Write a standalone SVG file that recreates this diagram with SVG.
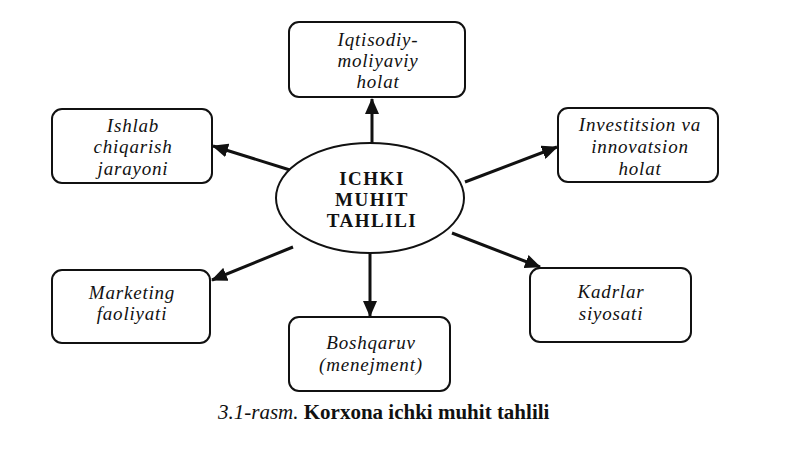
<svg xmlns="http://www.w3.org/2000/svg" width="800" height="449" viewBox="0 0 800 449">
<defs>
<style>
.box{fill:#fff;stroke:#111;stroke-width:2}
.t{font-family:"Liberation Serif","Times New Roman",serif;font-style:italic;font-size:19px;letter-spacing:0.8px;fill:#111;text-anchor:middle}
.c{font-family:"Liberation Serif","Times New Roman",serif;font-weight:bold;font-size:19px;letter-spacing:1.5px;fill:#111;text-anchor:middle}
.ln{stroke:#111;stroke-width:3;fill:none;marker-end:url(#ah)}
</style>
<marker id="ah" markerUnits="userSpaceOnUse" markerWidth="16" markerHeight="14" refX="15" refY="7" orient="auto">
<path d="M0,0 L16,7 L0,14 Z" fill="#111"/>
</marker>
</defs>
<rect width="800" height="449" fill="#fff"/>
<g id="connectors">
<line class="ln" x1="372" y1="143" x2="372" y2="99"/>
<line class="ln" x1="290" y1="170" x2="213" y2="146"/>
<line class="ln" x1="465" y1="182" x2="557" y2="147"/>
<line class="ln" x1="293" y1="247" x2="212" y2="280"/>
<line class="ln" x1="452" y1="233" x2="540" y2="267"/>
<line class="ln" x1="370" y1="253" x2="370" y2="316"/>
</g>
<g id="center">
<ellipse cx="370" cy="198" rx="94" ry="55" fill="#fff" stroke="#111" stroke-width="2"/>
<text class="c" x="372" y="185">ICHKI</text>
<text class="c" x="372" y="206">MUHIT</text>
<text class="c" x="372" y="227">TAHLILI</text>
</g>
<g id="iqtisodiy">
<rect class="box" x="289" y="22" width="176" height="75" rx="10"/>
<text class="t" x="378" y="46">Iqtisodiy-</text>
<text class="t" x="378" y="67">moliyaviy</text>
<text class="t" x="378" y="88">holat</text>
</g>
<g id="ishlab">
<rect class="box" x="52" y="109" width="160" height="74" rx="10"/>
<text class="t" x="133" y="132">Ishlab</text>
<text class="t" x="133" y="153">chiqarish</text>
<text class="t" x="133" y="175">jarayoni</text>
</g>
<g id="investitsion">
<rect class="box" x="558" y="108" width="160" height="74" rx="10"/>
<text class="t" x="640" y="131">Investitsion va</text>
<text class="t" x="640" y="153">innovatsion</text>
<text class="t" x="640" y="175">holat</text>
</g>
<g id="marketing">
<rect class="box" x="52" y="270" width="158" height="73" rx="10"/>
<text class="t" x="132" y="299">Marketing</text>
<text class="t" x="132" y="320">faoliyati</text>
</g>
<g id="kadrlar">
<rect class="box" x="530" y="268" width="161" height="74" rx="10"/>
<text class="t" x="611" y="298">Kadrlar</text>
<text class="t" x="611" y="320">siyosati</text>
</g>
<g id="boshqaruv">
<rect class="box" x="289" y="317" width="161" height="74" rx="10"/>
<text class="t" x="371" y="349">Boshqaruv</text>
<text class="t" x="371" y="371">(menejment)</text>
</g>
<text x="218" y="419" font-family="&quot;Liberation Serif&quot;,&quot;Times New Roman&quot;,serif" font-size="21" fill="#111"><tspan font-style="italic">3.1-rasm.</tspan> <tspan font-weight="bold">Korxona ichki muhit tahlili</tspan></text>
</svg>
